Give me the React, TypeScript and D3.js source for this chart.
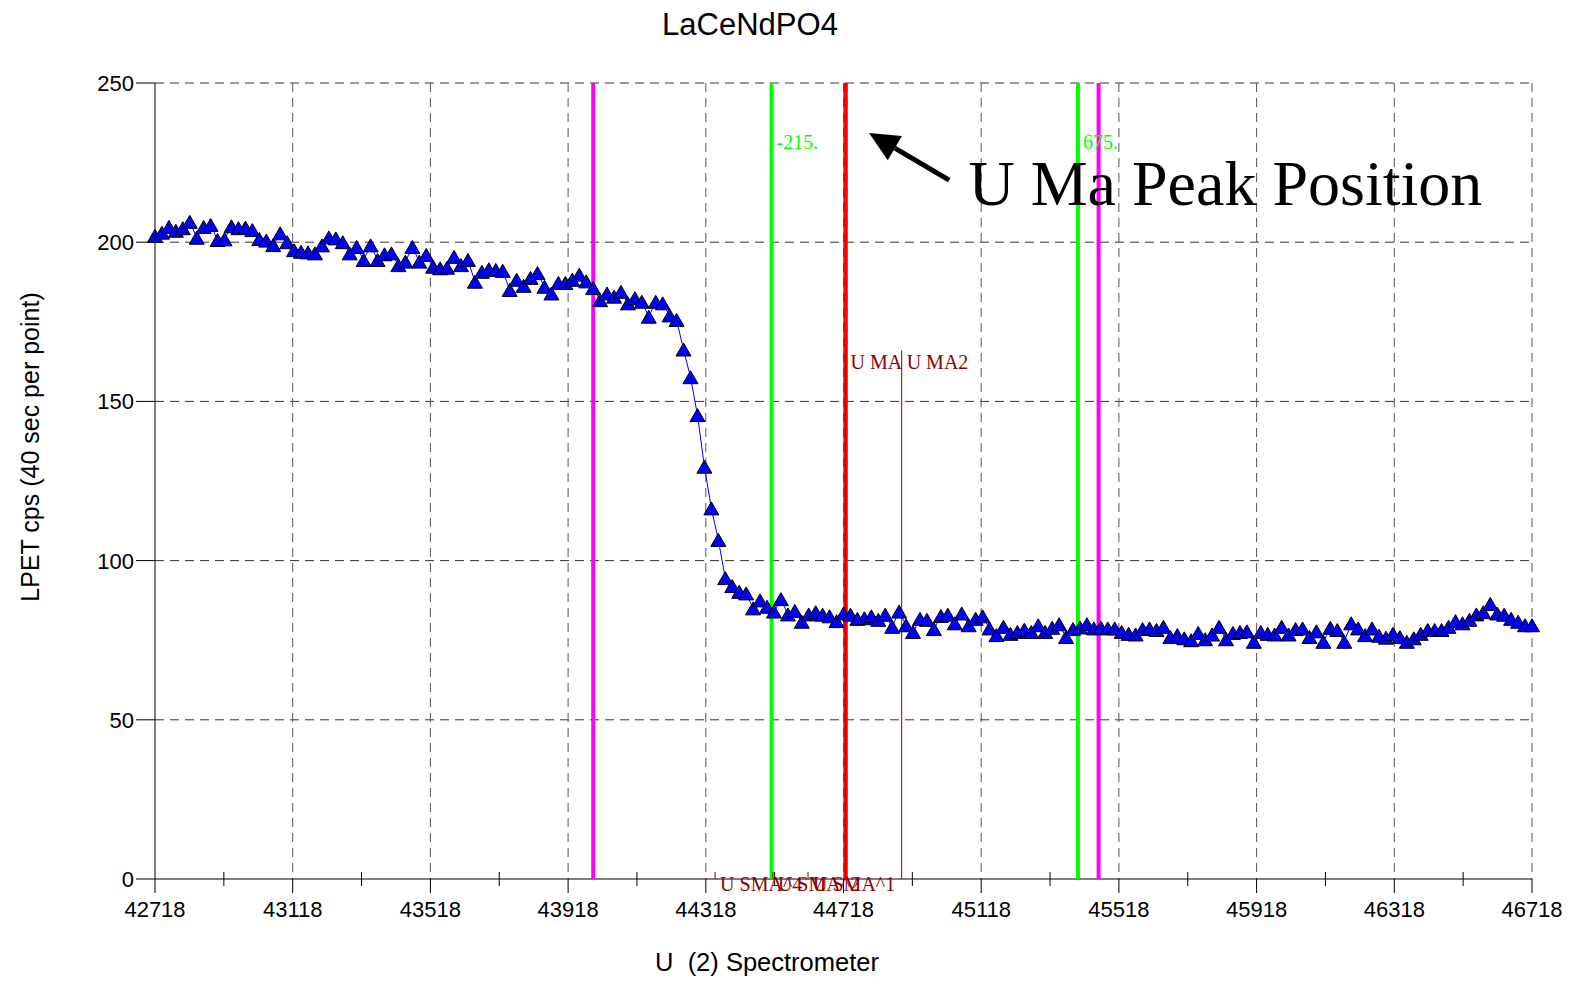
import React from "react";
import * as d3 from "d3";

// ---- data ----
const X_DOMAIN = [42718, 46718];
const Y_DOMAIN = [0, 250];
const xTicks = [42718, 43118, 43518, 43918, 44318, 44718, 45118, 45518, 45918, 46318, 46718];
const xMinorTicks = [42918, 43318, 43718, 44118, 44518, 44918, 45318, 45718, 46118, 46518];
const yTicks = [0, 50, 100, 150, 200, 250];

const counts = [
  202, 203, 204.8, 203.6, 204.4, 206.4, 201.4, 204.8, 205.4, 200.7,
  200.9, 205, 204.4, 204.6, 203.8, 201, 200.5, 199.1, 202.8, 200,
  197.5, 197, 196.8, 196.5, 199, 201.5, 201.2, 200, 196.5, 198.5,
  194.4, 199, 194.4, 196.2, 196.5, 192.8, 193.9, 198.5, 193.9, 196,
  192.3, 191.8, 192, 195.4, 192.8, 194.4, 187.6, 190.7, 191.5, 191.3,
  191, 185, 188.2, 186.3, 188.8, 190.3, 186, 183.9, 187.2, 187.2,
  188.2, 189.8, 187.7, 185.6, 181.8, 183.9, 182.9, 184.4, 180.8, 182.4,
  181.3, 176.6, 181.3, 180.8, 177, 175.6, 166.3, 157.6, 145.7, 129.5,
  116.4, 106.5, 94.5, 92, 90.2, 89.7, 85, 87.5, 85.5, 84,
  87.9, 83.1, 84.2, 80.8, 83.1, 83.8, 83, 82.5, 81, 83.4,
  83, 81.7, 81.9, 82.5, 81.4, 83, 79.2, 84, 79.7, 77.6,
  81.7, 81.4, 78.5, 82.6, 83, 80.3, 83.4, 79.7, 81.7, 82.5,
  78.7, 76.6, 79.2, 77, 77.6, 78.3, 77.6, 79.7, 77.6, 78.9,
  80, 76, 78.5, 79, 80, 78.7, 79, 78.7, 78.7, 77.6,
  77, 76.8, 78.5, 78.7, 78.2, 79.2, 76, 76.6, 75.6, 75,
  77.3, 75.3, 76.8, 79.2, 75.3, 77.3, 77.6, 77.8, 74.5, 77.6,
  77, 76.8, 79.2, 76.8, 78.5, 78.7, 76, 77.8, 74.5, 78.9,
  78.2, 74.5, 80.3, 78.7, 76.6, 78.7, 76.4, 75.8, 77, 76,
  74.5, 75.6, 77, 78.2, 78.2, 78.2, 79.2, 81, 80.3, 81.4,
  83.1, 83.8, 86.4, 83.4, 83, 81.7, 80.8, 79.7, 79.7,
];

// background / peak marker positions (spectrometer units)
const peakPos = 44724;
const bgLines = [44509, 45399]; // green, offsets -215 / 675
const bgLabels = ["-215.", "675."];
const limitLines = [43991, 45459]; // magenta
const lineMarkers = [
  { pos: 44724, top: 166, label: "U MA" },
  { pos: 44887, top: 166, label: "U MA2" },
  { pos: 44345, top: 2.2, label: "U SMA^4" },
  { pos: 44513, top: 2.2, label: "U SMA^2" },
  { pos: 44615, top: 2.2, label: "U SMA^1" },
];
const arrowTail = [45025, 219.5];
const arrowTip = [44792, 234.3];
const annotText = "U Ma Peak Position";
const annotPos = [45081, 211.7];

const W = 1572;
const H = 986;
const SANS = "'Liberation Sans', Arial, sans-serif";
const SERIF = "'Liberation Serif', 'Times New Roman', serif";

export default function App() {
  const x = d3.scaleLinear().domain(X_DOMAIN).range([155, 1532]);
  const y = d3.scaleLinear().domain(Y_DOMAIN).range([879, 83]);
  const n = counts.length;
  const pts = counts.map((v, i) => [X_DOMAIN[0] + (i * (X_DOMAIN[1] - X_DOMAIN[0])) / (n - 1), v]);
  const line = d3.line().x((d) => x(d[0])).y((d) => y(d[1]));
  const tri = "M0,-6.5L7.5,6.5L-7.5,6.5Z";

  // arrow geometry
  const tx = x(arrowTail[0]), ty = y(arrowTail[1]);
  const hx = x(arrowTip[0]), hy = y(arrowTip[1]);
  const dx = hx - tx, dy = hy - ty;
  const len = Math.hypot(dx, dy);
  const ux = dx / len, uy = dy / len;
  const bx = hx - 30 * ux, by = hy - 30 * uy;
  const px = -uy * 14, py = ux * 14;

  return (
    <svg width={W} height={H} style={{ position: "absolute", left: 0, top: 0, display: "block", background: "#fff" }}>
      <rect width={W} height={H} fill="#fff" />
      <text x={750} y={35} textAnchor="middle" fontFamily={SANS} fontSize={31}>LaCeNdPO4</text>

      {/* grid */}
      {yTicks.filter((t) => t > 0).map((t) => (
        <line key={"gy" + t} x1={155} x2={1532} y1={y(t)} y2={y(t)} stroke="#333" strokeDasharray="9,6" />
      ))}
      {xTicks.filter((t) => t > X_DOMAIN[0]).map((t) => (
        <line key={"gx" + t} x1={x(t)} x2={x(t)} y1={83} y2={879} stroke="#555" strokeDasharray="9,6" />
      ))}

      {/* axes */}
      <line x1={155} x2={155} y1={83} y2={879} stroke="#000" />
      <line x1={155} x2={1532} y1={879} y2={879} stroke="#000" />
      {yTicks.map((t) => (
        <g key={"yt" + t}>
          <line x1={136} x2={155} y1={y(t)} y2={y(t)} stroke="#000" />
          <text x={134} y={y(t) + 8} textAnchor="end" fontFamily={SANS} fontSize={22}>{t}</text>
        </g>
      ))}
      {xTicks.map((t) => (
        <g key={"xt" + t}>
          <line x1={x(t)} x2={x(t)} y1={879} y2={893} stroke="#000" />
          <text x={x(t)} y={917} textAnchor="middle" fontFamily={SANS} fontSize={22}>{t}</text>
        </g>
      ))}
      {xMinorTicks.map((t) => (
        <line key={"xm" + t} x1={x(t)} x2={x(t)} y1={872} y2={886} stroke="#000" />
      ))}

      <text x={767} y={971} textAnchor="middle" fontFamily={SANS} fontSize={25.5} style={{ whiteSpace: "pre" }}>
        {"U  (2) Spectrometer"}
      </text>
      <text transform={`translate(39,447) rotate(-90)`} textAnchor="middle" fontFamily={SANS} fontSize={25}>
        LPET cps (40 sec per point)
      </text>

      {/* vertical marker lines */}
      {limitLines.map((p) => (
        <line key={"m" + p} x1={x(p)} x2={x(p)} y1={83} y2={879} stroke="#ff00ff" strokeWidth={4} />
      ))}
      {bgLines.map((p, i) => (
        <g key={"g" + p}>
          <line x1={x(p)} x2={x(p)} y1={83} y2={879} stroke="#00ff00" strokeWidth={4} />
          <text x={x(p) + 5} y={149} fontFamily={SERIF} fontSize={20} fill="#00ff00">{bgLabels[i]}</text>
        </g>
      ))}
      <line x1={x(peakPos)} x2={x(peakPos)} y1={83} y2={879} stroke="#ff0000" strokeWidth={4.5} />
      {lineMarkers.map((m) => (
        <g key={m.label}>
          <line x1={x(m.pos)} x2={x(m.pos)} y1={y(m.top)} y2={879} stroke="#8b0000" strokeWidth={1} />
          <text x={x(m.pos) + 5} y={y(m.top) + 19} fontFamily={SERIF} fontSize={20} fill="#8b0000">{m.label}</text>
        </g>
      ))}

      {/* data */}
      <path d={line(pts) || ""} fill="none" stroke="#0000ff" strokeWidth={1} />
      {pts.map((d, i) => (
        <path key={i} d={tri} transform={`translate(${x(d[0])},${y(d[1])})`} fill="#0000ff" stroke="#000" strokeWidth={1} />
      ))}

      {/* annotation */}
      <line x1={tx} y1={ty} x2={bx} y2={by} stroke="#000" strokeWidth={5} />
      <path d={`M${hx},${hy}L${bx + px},${by + py}L${bx - px},${by - py}Z`} fill="#000" />
      <text x={x(annotPos[0])} y={y(annotPos[1])} fontFamily={SERIF} fontSize={64}>{annotText}</text>
    </svg>
  );
}
